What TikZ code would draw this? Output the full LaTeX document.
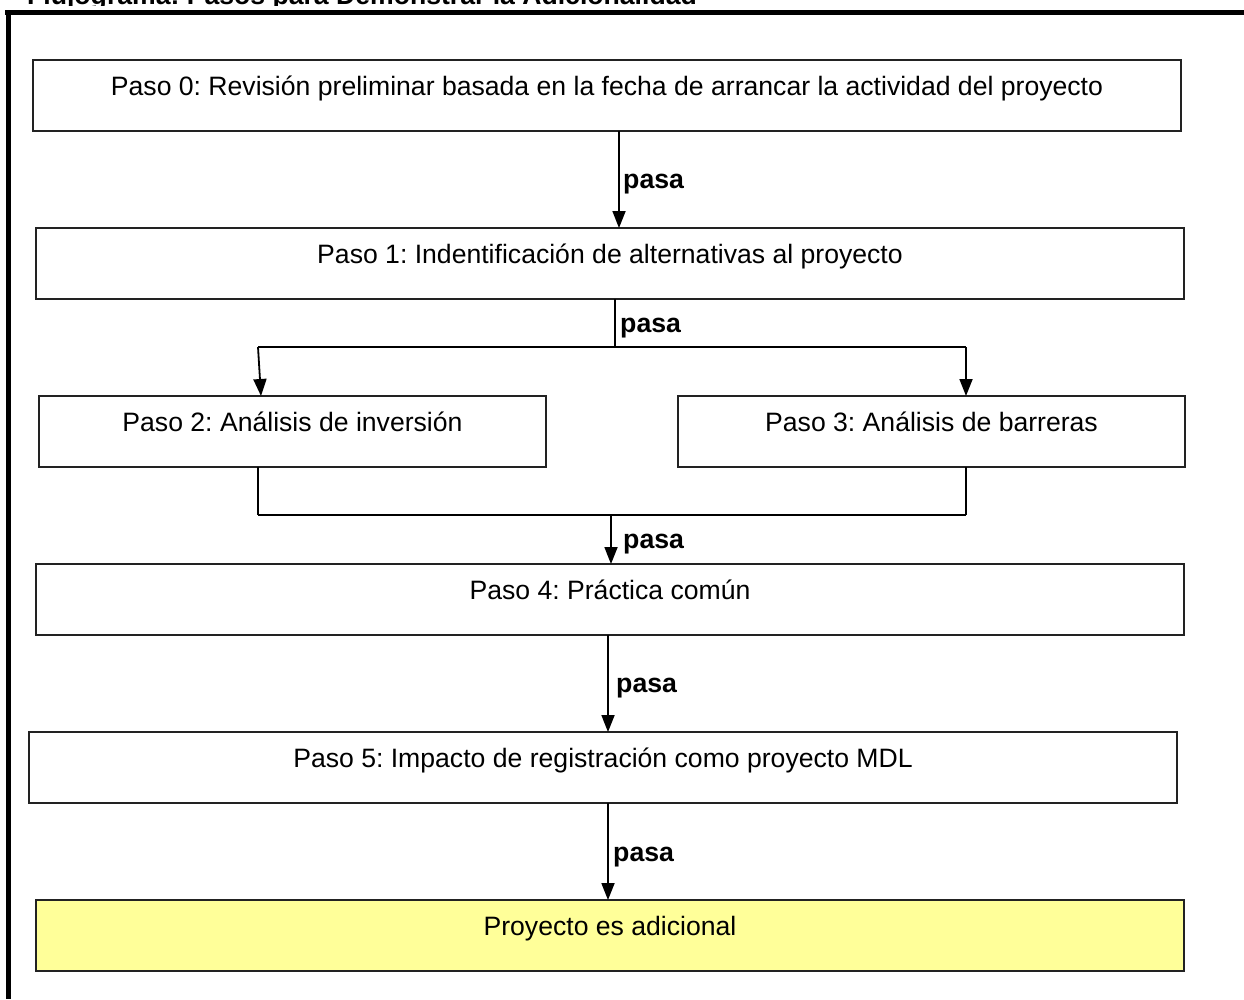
\documentclass[tikz,border=0pt]{standalone}
\usepackage{fontspec}
\setmainfont{Liberation Sans}
\usetikzlibrary{arrows.meta,calc}
\frenchspacing
\definecolor{boxline}{HTML}{222222}
\definecolor{yel}{HTML}{FFFF99}
\tikzset{
  stepbox/.style={draw=boxline, line width=1.8pt, rectangle, anchor=north west,
    minimum width=1148pt, minimum height=71pt, inner sep=0pt, outer sep=0pt,
    text height=9pt, text depth=9pt,
    font=\fontsize{26.6}{32}\selectfont},
  halfbox/.style={stepbox, minimum width=507pt},
  conn/.style={line width=1.8pt, draw=black},
  arr/.style={conn, -{Triangle[length=17pt,width=13pt]}},
  lbl/.style={font=\fontsize{26.7}{32}\selectfont\bfseries, anchor=base west, inner sep=0pt},
  frame/.style={line width=5pt, draw=black}
}
\begin{document}
\frenchspacing
\begin{tikzpicture}[x=1pt,y=-1pt]
\useasboundingbox (0,0) rectangle (1244,999);
% title (cut off by the top edge, as in the reference)
\begin{scope}
\clip (0,0) rectangle (1244,5);
\node[anchor=base west, inner sep=0pt, font=\fontsize{26.6}{32}\selectfont\bfseries] (title) at (27,4.5) {Flujograma: Pasos para Demonstrar la Adicionalidad};
\end{scope}
% frame
\draw[frame] (5,12.5) -- (1244,12.5);
\draw[frame] (8,10) -- (8,999);
% boxes
\node[stepbox] (b0) at (33,60) {Paso 0: Revisión preliminar basada en la fecha de arrancar la actividad del proyecto};
\node[stepbox] (b1) at (36,228) {Paso 1: Indentificación de alternativas al proyecto};
\node[halfbox] (b2) at (39,396) {Paso 2: Análisis de inversión};
\node[halfbox] (b3) at (678,396) {Paso 3: Análisis de barreras};
\node[stepbox] (b4) at (36,564) {Paso 4: Práctica común};
\node[stepbox] (b5) at (29,732) {Paso 5: Impacto de registración como proyecto MDL};
\node[stepbox, fill=yel] (b6) at (36,900) {Proyecto es adicional};
% connectors
\coordinate (a0) at (619,131);
\draw[arr] (b0.south -| a0) -- (b1.north -| a0);
\node[lbl] (p0) at (623,188) {pasa};
% split
\coordinate (j1) at (615,347);
\coordinate (l1) at (258,347);
\coordinate (r1) at (966,347);
\coordinate (t2) at (261,396);
\draw[conn] (b1.south -| j1) -- (j1);
\draw[conn] (l1) -- (r1);
\draw[arr] (l1) -- (b2.north -| t2);
\draw[arr] (r1) -- (b3.north -| r1);
\node[lbl] (p1) at (620,332) {pasa};
% merge
\coordinate (l2) at (258,515);
\coordinate (r2) at (966,515);
\coordinate (j2) at (611,515);
\draw[conn] (b2.south -| l2) -- (l2);
\draw[conn] (b3.south -| r2) -- (r2);
\draw[conn] (l2) -- (r2);
\draw[arr] (j2) -- (b4.north -| j2);
\node[lbl] (p2) at (623,548) {pasa};
% 4 -> 5
\coordinate (a4) at (608,635);
\draw[arr] (b4.south -| a4) -- (b5.north -| a4);
\node[lbl] (p3) at (616,692) {pasa};
% 5 -> 6
\coordinate (a5) at (608,803);
\draw[arr] (b5.south -| a5) -- (b6.north -| a5);
\node[lbl] (p4) at (613,861) {pasa};
\end{tikzpicture}
\end{document}
